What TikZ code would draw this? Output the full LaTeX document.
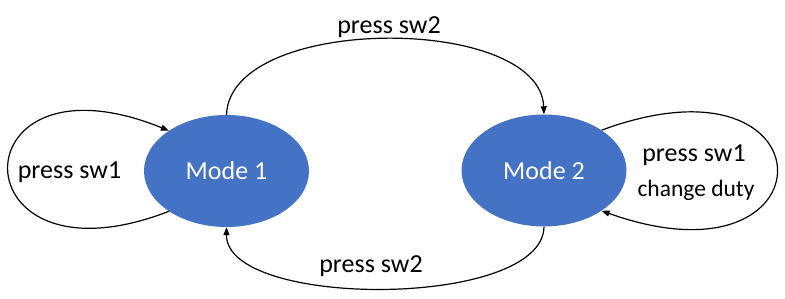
\documentclass[tikz,border=0pt]{standalone}
\usepackage{fontspec}
\setmainfont{Carlito}
\usetikzlibrary{arrows.meta,shapes.geometric}
\definecolor{modeblue}{HTML}{4472C4}
\begin{document}
\begin{tikzpicture}[x=1pt,y=1pt,
  modestate/.style={ellipse, fill=modeblue, text=white, inner sep=0pt,
    minimum width=165pt, minimum height=112pt, font=\fontsize{26}{30}\selectfont},
  trans/.style={line width=1.2pt, -{Triangle[length=8pt,width=6pt]}},
  lbl/.style={anchor=base, inner sep=0pt, font=\fontsize{26}{30}\selectfont},
  lblsmall/.style={anchor=base, inner sep=0pt, font=\fontsize{23.5}{28}\selectfont}]
\useasboundingbox (0,0) rectangle (785,299);

% the two states
\node[modestate] (m1) at (226.5,128) {Mode 1};
\node[modestate] (m2) at (544,128.5) {Mode 2};

% transitions between the states
\draw[trans] (m1.north) .. controls (230,285) and (540,285) .. (m2.north);
\draw[trans] (m2.south) .. controls (543,-10) and (226,-10) .. (m1.south);

% self loops
\draw[trans] (m1.215) .. controls (-45,5) and (-45,255) .. (m1.145);
\draw[trans] (m2.35) .. controls (835,255) and (835,5) .. (m2.-35);

% labels
\node[lbl] (ltop) at (389,265) {press sw2};
\node[lbl] (lbot) at (371,26) {press sw2};
\node[lbl] (lleft) at (69.5,120) {press sw1};
\node[lbl] (lright) at (694,137) {press sw1};
\node[lblsmall] (lduty) at (696,102) {change duty};
\end{tikzpicture}
\end{document}
